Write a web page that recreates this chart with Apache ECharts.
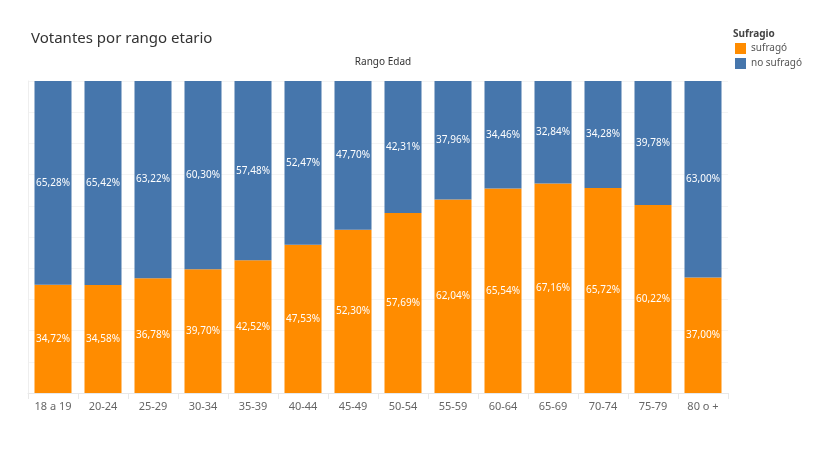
<!DOCTYPE html>
<html><head><meta charset="utf-8">
<script src="https://cdn.jsdelivr.net/npm/echarts@6/dist/echarts.min.js"></script>
<style>html,body{margin:0;padding:0;background:#fff}#c{width:816px;height:450px}</style>
</head><body><div id="c"></div>
<script>
const categories = ["18 a 19","20-24","25-29","30-34","35-39","40-44","45-49","50-54","55-59","60-64","65-69","70-74","75-79","80 o +"];
const sufrago = [34.72,34.58,36.78,39.70,42.52,47.53,52.30,57.69,62.04,65.54,67.16,65.72,60.22,37.00];
const noSufrago = [65.28,65.42,63.22,60.30,57.48,52.47,47.70,42.31,37.96,34.46,32.84,34.28,39.78,63.00];

const fmt = p => p.value.toFixed(2).replace('.', ',') + '%';
const font = 'Noto Sans';
const chart = echarts.init(document.getElementById('c'));
chart.setOption({
  animation: false,
  textStyle: {fontFamily: font},
  title: [
    {text: 'Votantes por rango etario', left: 26, top: 26, textStyle: {fontSize: 15, fontWeight: 'normal', color: '#333', fontFamily: font}},
    {text: 'Rango Edad', left: 378, top: 52, textAlign: 'center', textStyle: {fontSize: 10, fontWeight: 'normal', color: '#333', fontFamily: font}},
    {text: 'Sufragio', left: 728, top: 24, textStyle: {fontSize: 10, fontWeight: 'bold', color: '#444', fontFamily: font}}
  ],
  legend: {
    orient: 'vertical', left: 730, top: 38, itemWidth: 11, itemHeight: 11, itemGap: 4, icon: 'rect',
    textStyle: {fontSize: 10, color: '#555', fontFamily: font},
    data: ['sufragó', 'no sufragó']
  },
  grid: {left: 28, right: 88, top: 81, bottom: 57},
  xAxis: {
    type: 'category', data: categories,
    axisLine: {lineStyle: {color: '#e8e8e8'}},
    axisTick: {show: true, length: 6, lineStyle: {color: '#e8e8e8'}},
    axisLabel: {color: '#666', fontSize: 11, margin: 8, fontFamily: font}
  },
  yAxis: {
    type: 'value', min: 0, max: 100, interval: 10,
    axisLabel: {show: false}, axisTick: {show: false},
    axisLine: {show: true, lineStyle: {color: '#eeeeee'}},
    splitLine: {lineStyle: {color: '#f4f4f4'}}
  },
  series: [
    {name: 'sufragó', type: 'bar', stack: 'a', data: sufrago, barCategoryGap: '26%',
     itemStyle: {color: '#ff8c00'},
     label: {show: true, position: 'inside', color: '#fff', fontSize: 10, formatter: fmt, fontFamily: font}},
    {name: 'no sufragó', type: 'bar', stack: 'a', data: noSufrago, barCategoryGap: '26%',
     itemStyle: {color: '#4676ac'},
     label: {show: true, position: 'inside', color: '#fff', fontSize: 10, formatter: fmt, fontFamily: font}}
  ]
});
</script></body></html>
